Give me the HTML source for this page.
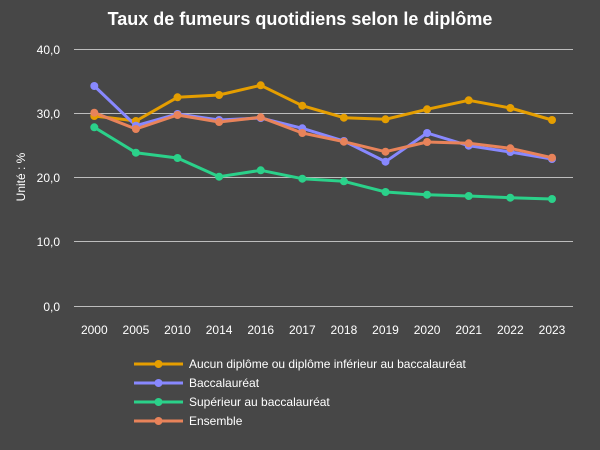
<!DOCTYPE html>
<html><head><meta charset="utf-8"><style>
html,body{margin:0;padding:0;background:#474747;}
svg{display:block;font-family:"Liberation Sans",Roboto,sans-serif;}
</style></head><body>
<svg width="600" height="450" viewBox="0 0 600 450" xmlns="http://www.w3.org/2000/svg">
<rect width="600" height="450" fill="#474747"/>
<text x="300" y="25" text-anchor="middle" fill="#fff" font-size="18" font-weight="bold">Taux de fumeurs quotidiens selon le diplôme</text>
<g stroke="#bdbdbd" stroke-width="1">
<line x1="74" x2="573" y1="49.5" y2="49.5"/>
<line x1="74" x2="573" y1="113.5" y2="113.5"/>
<line x1="74" x2="573" y1="177.5" y2="177.5"/>
<line x1="74" x2="573" y1="241.5" y2="241.5"/>
<line x1="74" x2="573" y1="306.5" y2="306.5"/>
</g>
<g fill="#fff" font-size="12" text-anchor="end">
<text x="60" y="54">40,0</text><text x="60" y="118">30,0</text><text x="60" y="182">20,0</text><text x="60" y="246">10,0</text><text x="60" y="311">0,0</text>
</g>
<text transform="translate(25,177) rotate(-90)" text-anchor="middle" fill="#fff" font-size="12">Unité : %</text>
<g fill="#fff" font-size="12" text-anchor="middle">
<text x="94.3" y="334">2000</text><text x="135.9" y="334">2005</text><text x="177.5" y="334">2010</text><text x="219.1" y="334">2014</text><text x="260.7" y="334">2016</text><text x="302.3" y="334">2017</text><text x="343.9" y="334">2018</text><text x="385.5" y="334">2019</text><text x="427.1" y="334">2020</text><text x="468.7" y="334">2021</text><text x="510.3" y="334">2022</text><text x="552" y="334">2023</text>
</g>
<g fill="none" stroke-width="3" stroke-linejoin="round">
<polyline stroke="#e59e00" points="94.3,116 135.9,121 177.5,97.3 219.1,95 260.7,85.3 302.3,105.7 343.9,117.7 385.5,119.3 427.1,109.3 468.7,100.3 510.3,108 552,120"/>
<polyline stroke="#8888ff" points="94.3,86 135.9,125.7 177.5,114 219.1,120 260.7,118 302.3,128.3 343.9,141 385.5,161.7 427.1,133 468.7,145.7 510.3,152 552,159"/>
<polyline stroke="#2bd18a" points="94.3,127.3 135.9,152.7 177.5,158 219.1,176.7 260.7,170.3 302.3,178.7 343.9,181.3 385.5,192 427.1,194.7 468.7,196 510.3,197.7 552,199"/>
<polyline stroke="#e8835a" points="94.3,112.7 135.9,129 177.5,115 219.1,122 260.7,117.3 302.3,133 343.9,141.7 385.5,151.7 427.1,142 468.7,143.3 510.3,148.3 552,157.7"/>
</g>
<g fill="#e59e00"><circle cx="94.3" cy="116" r="4"/><circle cx="135.9" cy="121" r="4"/><circle cx="177.5" cy="97.3" r="4"/><circle cx="219.1" cy="95" r="4"/><circle cx="260.7" cy="85.3" r="4"/><circle cx="302.3" cy="105.7" r="4"/><circle cx="343.9" cy="117.7" r="4"/><circle cx="385.5" cy="119.3" r="4"/><circle cx="427.1" cy="109.3" r="4"/><circle cx="468.7" cy="100.3" r="4"/><circle cx="510.3" cy="108" r="4"/><circle cx="552" cy="120" r="4"/></g>
<g fill="#8888ff"><circle cx="94.3" cy="86" r="4"/><circle cx="135.9" cy="125.7" r="4"/><circle cx="177.5" cy="114" r="4"/><circle cx="219.1" cy="120" r="4"/><circle cx="260.7" cy="118" r="4"/><circle cx="302.3" cy="128.3" r="4"/><circle cx="343.9" cy="141" r="4"/><circle cx="385.5" cy="161.7" r="4"/><circle cx="427.1" cy="133" r="4"/><circle cx="468.7" cy="145.7" r="4"/><circle cx="510.3" cy="152" r="4"/><circle cx="552" cy="159" r="4"/></g>
<g fill="#2bd18a"><circle cx="94.3" cy="127.3" r="4"/><circle cx="135.9" cy="152.7" r="4"/><circle cx="177.5" cy="158" r="4"/><circle cx="219.1" cy="176.7" r="4"/><circle cx="260.7" cy="170.3" r="4"/><circle cx="302.3" cy="178.7" r="4"/><circle cx="343.9" cy="181.3" r="4"/><circle cx="385.5" cy="192" r="4"/><circle cx="427.1" cy="194.7" r="4"/><circle cx="468.7" cy="196" r="4"/><circle cx="510.3" cy="197.7" r="4"/><circle cx="552" cy="199" r="4"/></g>
<g fill="#e8835a"><circle cx="94.3" cy="112.7" r="4"/><circle cx="135.9" cy="129" r="4"/><circle cx="177.5" cy="115" r="4"/><circle cx="219.1" cy="122" r="4"/><circle cx="260.7" cy="117.3" r="4"/><circle cx="302.3" cy="133" r="4"/><circle cx="343.9" cy="141.7" r="4"/><circle cx="385.5" cy="151.7" r="4"/><circle cx="427.1" cy="142" r="4"/><circle cx="468.7" cy="143.3" r="4"/><circle cx="510.3" cy="148.3" r="4"/><circle cx="552" cy="157.7" r="4"/></g>
<g stroke-width="3">
<line x1="134" x2="183" y1="364" y2="364" stroke="#e59e00"/><circle cx="158.5" cy="364" r="4" fill="#e59e00"/>
<line x1="134" x2="183" y1="383" y2="383" stroke="#8888ff"/><circle cx="158.5" cy="383" r="4" fill="#8888ff"/>
<line x1="134" x2="183" y1="402" y2="402" stroke="#2bd18a"/><circle cx="158.5" cy="402" r="4" fill="#2bd18a"/>
<line x1="134" x2="183" y1="421" y2="421" stroke="#e8835a"/><circle cx="158.5" cy="421" r="4" fill="#e8835a"/>
</g>
<g fill="#fff" font-size="12">
<text x="189" y="368">Aucun diplôme ou diplôme inférieur au baccalauréat</text>
<text x="189" y="387">Baccalauréat</text>
<text x="189" y="406">Supérieur au baccalauréat</text>
<text x="189" y="425">Ensemble</text>
</g>
</svg>
</body></html>
